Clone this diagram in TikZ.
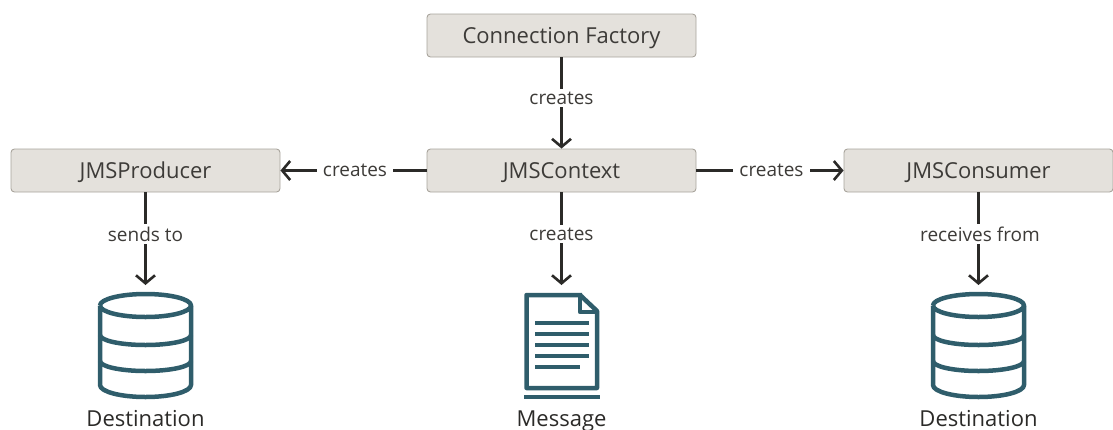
\documentclass[tikz,border=0pt]{standalone}
\usepackage{fontspec}
\setmainfont{Open Sans}
\usetikzlibrary{arrows.meta}
\definecolor{boxfill}{HTML}{E4E1DC}
\definecolor{boxline}{HTML}{A8A49C}
\definecolor{tealc}{HTML}{2F5D6B}
\definecolor{ink}{HTML}{2B2A28}
\definecolor{textc}{HTML}{3D3B38}
\tikzset{x=1pt,y=-1pt,
 box/.style={draw=boxline,line width=0.9pt,fill=boxfill,rounded corners=3.5pt,minimum width=269pt,minimum height=43pt,inner sep=0pt,text=textc,font=\fontsize{22}{26}\selectfont},
 conn/.style={draw=ink,line width=2.6pt},
 arr/.style={conn,-{Straight Barb[length=8pt,width=19pt,line width=2.6pt]}},
 lab/.style={fill=white,inner xsep=6pt,inner ysep=3pt,text=textc,font=\fontsize{19}{22}\selectfont},
 captext/.style={inner sep=0pt,text=ink,font=\fontsize{22}{26}\selectfont,anchor=base},
 icon/.style={draw=tealc,line width=4.5pt,line join=round},
 iconbar/.style={draw=tealc,line width=4.4pt}
}
\newcommand{\cyl}[1]{%
 \begin{scope}[shift={(#1,0)}]
  \draw[icon] (-45.5,305.5) arc[x radius=45.5,y radius=11.5,start angle=180,end angle=540];
  \draw[icon] (-45.5,305.5) -- (-45.5,385) arc[x radius=45.5,y radius=12,start angle=180,end angle=0] -- (45.5,305.5);
  \draw[icon] (-45.5,335) arc[x radius=45.5,y radius=10,start angle=180,end angle=0];
  \draw[icon] (-45.5,361) arc[x radius=45.5,y radius=10,start angle=180,end angle=0];
 \end{scope}}
\newcommand{\boxlabel}[1]{\raisebox{-8pt}[0pt][0pt]{#1}}
\begin{document}
\begin{tikzpicture}
\useasboundingbox (0,0) rectangle (1113,429);
\node[box] (cf) at (561.5,35.5) {\boxlabel{Connection Factory}};
\node[box] (ctx) at (561.5,170.5) {\boxlabel{JMSContext}};
\node[box] (prod) at (145.5,170.5) {\boxlabel{JMSProducer}};
\node[box] (cons) at (978.5,170.5) {\boxlabel{JMSConsumer}};
\coordinate (d1) at (145.5,285);
\coordinate (m) at (561.5,285);
\coordinate (d2) at (978.5,285);
\draw[arr] (cf) -- (ctx) node[lab,midway,yshift=5pt] {creates};
\draw[arr] (ctx) -- (prod) node[lab,pos=0.5,xshift=1.5pt] {creates};
\draw[arr] (ctx) -- (cons) node[lab,pos=0.5,xshift=1.5pt] {creates};
\draw[arr] (prod) -- (d1) node[lab,pos=0.45] {sends to};
\draw[arr] (ctx) -- (m) node[lab,pos=0.45] {creates};
\draw[arr] (cons) -- (d2) node[lab,pos=0.45,xshift=1.5pt] {receives from};
\cyl{145.5}
\cyl{978.5}
\draw[icon] (582,295) -- (526.5,295) -- (526.5,388) -- (597,388) -- (597,311) -- (580,295);
\draw[icon] (580,295) -- (580,312) -- (597,312);
\draw[iconbar] (535,323) -- (589,323);
\draw[iconbar] (535,334) -- (589,334);
\draw[iconbar] (535,345) -- (589,345);
\draw[iconbar] (535,356) -- (589,356);
\draw[iconbar] (535,367) -- (580,367);
\draw[iconbar,line width=4.8pt] (524,397) -- (600,397);
\node[captext] (c1) at (145.5,426) {Destination};
\node[captext] (c2) at (561.5,426) {Message};
\node[captext] (c3) at (978.5,426) {Destination};
\end{tikzpicture}
\end{document}
